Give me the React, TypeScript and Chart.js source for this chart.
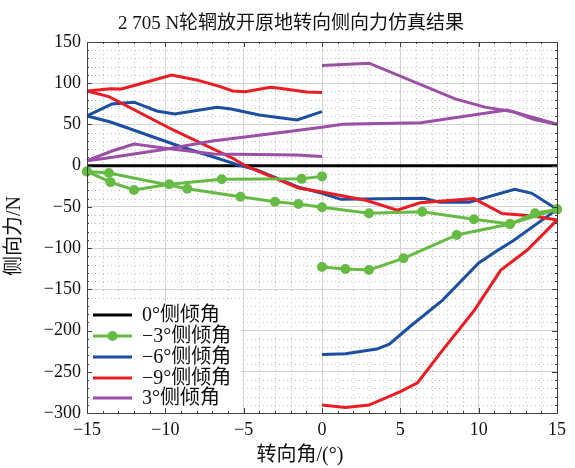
import React, { useEffect, useRef } from "react";
import { Chart, registerables } from "chart.js";

Chart.register(...registerables);

const SERIF = "'Liberation Serif', 'Noto Sans CJK SC', serif";

const titleText = "2 705 N轮辋放开原地转向侧向力仿真结果";
const xAxisTitle = "转向角/(°)";
const yAxisTitle = "侧向力/N";

const seriesNames = ["0°侧倾角", "−3°侧倾角", "−6°侧倾角", "−9°侧倾角", "3°侧倾角"];
const seriesColors = ["#000000", "#66bb44", "#1c4ea3", "#ec1c24", "#9b4fa6"];

// axis ranges: steering angle (°) and lateral force (N)
const xMin = -15, xMax = 15, xStep = 5, xMinorStep = 1;
const yMin = -300, yMax = 150, yStep = 50, yMinorStep = 10;

// 0° camber
const camber0 = [[-15, 0], [15, 0]];

// -3° camber (sampled points, drawn with markers)
const neg3Return = [[-15, -7], [-13.5, -20], [-12, -29.5], [-9.75, -22.6], [-6.4, -16.5], [-1.3, -16], [0, -13]];
const neg3Sweep = [[-15, -7], [-13.6, -9], [-8.6, -28], [-5.2, -37.6], [-3, -43.7], [-1.5, -46.5], [0, -50.5],
  [3, -57.8], [6.4, -55.8], [9.7, -65], [12, -70.8], [15, -53]];
const neg3Right = [[0, -123], [1.5, -125.4], [3, -126.6], [5.2, -112.4], [8.6, -84], [12, -70.8], [13.6, -57.8], [15, -53]];

// -6° camber
const neg6Return = [[-15, 60.3], [-13.4, 74.9], [-12, 77], [-10.55, 66.4], [-9.4, 62.7], [-6.7, 70.9], [-5.8, 68.8],
  [-4, 61.5], [-1.6, 55.5], [0, 65.5]];
const neg6Sweep = [[-15, 60.3], [-13.5, 53], [-9, 23], [-5.2, 0], [-4.2, -5], [-1.5, -26], [0, -33.5], [1.2, -40.8],
  [6.5, -39.6], [7.5, -44.4], [9.4, -44.4], [12.3, -28.7], [13.4, -33.5], [15, -53]];
const neg6Right = [[0, -229], [1.5, -228], [3.5, -222.4], [4.3, -216.4], [5.6, -195.4], [7.7, -163], [10, -118],
  [11.25, -102.3], [12.2, -91], [15, -53]];

// -9° camber
const neg9Return = [[-15, 90.6], [-13.5, 93.4], [-12.8, 93], [-11.7, 98.8], [-9.6, 110], [-8, 104], [-6.5, 95.9],
  [-5.7, 90.6], [-4.9, 89.8], [-3.3, 95.1], [-2.7, 93.9], [-1, 89.4], [0, 88.6]];
const neg9Sweep = [[-15, 90.6], [-13.6, 83.7], [-9.5, 43.3], [-5.7, 9], [-4.8, -1], [-1.5, -27], [0, -32],
  [2.8, -42], [4.8, -54], [6.25, -45], [9.7, -40], [11.5, -58], [13.5, -61], [15, -66]];
const neg9Right = [[0, -290.4], [1.5, -293.3], [3, -290.4], [5, -274], [6.1, -263.3], [7.7, -223.7], [9.7, -176],
  [11.4, -127], [13.1, -102.3], [15, -66]];

// 3° camber
const pos3Return = [[-15, 6], [-13.4, 17.8], [-12, 26.3], [-10, 21], [-6.9, 14.2], [-1.6, 13], [0, 11]];
const pos3Sweep = [[-15, 6], [-13.8, 9], [-10, 20], [-7, 30], [-3.5, 38], [0, 46.5], [1.3, 50.2], [6.3, 52.2],
  [11.8, 67.6], [15, 50.2]];
const pos3Right = [[0, 121.4], [3, 124.3], [8.5, 81], [10.4, 71], [12.2, 65.5], [13.5, 56.3], [15, 50.2]];

const toPoints = (pairs: number[][]) => pairs.map(([x, y]) => ({ x, y }));

const minus = (v: number | string) => String(v).replace("-", "\u2212");

function lineSet(pairs: number[][], idx: number, order: number, markers = false) {
  const c = seriesColors[idx];
  return {
    label: seriesNames[idx],
    data: toPoints(pairs),
    borderColor: c,
    backgroundColor: c,
    borderWidth: 3,
    pointRadius: markers ? 5 : 0,
    pointHoverRadius: markers ? 5 : 0,
    pointBackgroundColor: c,
    pointBorderColor: c,
    pointBorderWidth: 0,
    tension: 0,
    clip: false,
    order,
  };
}

const decorPlugin = {
  id: "decor",
  beforeDatasetsDraw(chart: any) {
    const { ctx, chartArea, scales } = chart;
    const { left, right, top, bottom } = chartArea;
    const sx = scales.x, sy = scales.y;
    ctx.save();
    ctx.strokeStyle = "#c2c2c2";
    ctx.lineWidth = 1;
    ctx.setLineDash([1, 3]);
    ctx.beginPath();
    for (let v = xMin + xMinorStep; v < xMax; v += xMinorStep) {
      if (v % xStep === 0) continue;
      const px = Math.round(sx.getPixelForValue(v)) + 0.5;
      ctx.moveTo(px, top);
      ctx.lineTo(px, bottom);
    }
    for (let v = yMin + yMinorStep; v < yMax; v += yMinorStep) {
      if (v % yStep === 0) continue;
      const py = Math.round(sy.getPixelForValue(v)) + 0.5;
      ctx.moveTo(left, py);
      ctx.lineTo(right, py);
    }
    ctx.stroke();
    ctx.restore();
  },
  afterDatasetsDraw(chart: any) {
    const { ctx, chartArea, scales } = chart;
    const { left, right, top, bottom } = chartArea;
    const sx = scales.x, sy = scales.y;
    ctx.save();

    // legend
    ctx.fillStyle = "#ffffff";
    ctx.fillRect(left + 1, 302, 153, bottom - 303);
    const rowY = [315, 336, 357, 378, 398];
    ctx.font = `20px ${SERIF}`;
    ctx.textBaseline = "middle";
    ctx.textAlign = "left";
    seriesNames.forEach((name, i) => {
      const y = rowY[i];
      ctx.strokeStyle = seriesColors[i];
      ctx.lineWidth = 3;
      ctx.beginPath();
      ctx.moveTo(93, y);
      ctx.lineTo(132, y);
      ctx.stroke();
      if (i === 1) {
        ctx.fillStyle = seriesColors[i];
        ctx.beginPath();
        ctx.arc(112.5, y, 5, 0, Math.PI * 2);
        ctx.fill();
      }
      ctx.fillStyle = "#111";
      ctx.fillText(name, 142, y + 1);
    });

    // frame with inward ticks
    ctx.strokeStyle = "#404040";
    ctx.lineWidth = 1;
    ctx.strokeRect(Math.round(left) + 0.5, Math.round(top) + 0.5, Math.round(right - left), Math.round(bottom - top));
    ctx.beginPath();
    for (let v = xMin; v <= xMax; v += xMinorStep) {
      const px = Math.round(sx.getPixelForValue(v)) + 0.5;
      const len = v % xStep === 0 ? 5 : 2;
      ctx.moveTo(px, bottom);
      ctx.lineTo(px, bottom - len);
      ctx.moveTo(px, top);
      ctx.lineTo(px, top + len);
    }
    for (let v = yMin; v <= yMax; v += yMinorStep) {
      const py = Math.round(sy.getPixelForValue(v)) + 0.5;
      const len = v % yStep === 0 ? 5 : 2;
      ctx.moveTo(left, py);
      ctx.lineTo(left + len, py);
      ctx.moveTo(right, py);
      ctx.lineTo(right - len, py);
    }
    ctx.stroke();
    ctx.restore();
  },
  afterDraw(chart: any) {
    const { ctx } = chart;
    ctx.save();
    ctx.fillStyle = "#111";
    ctx.textAlign = "center";
    ctx.textBaseline = "middle";
    ctx.font = `19px ${SERIF}`;
    ctx.fillText(titleText, 291, 24);
    ctx.font = `20px ${SERIF}`;
    ctx.fillText(xAxisTitle, 300, 456);
    ctx.translate(15, 236);
    ctx.rotate(-Math.PI / 2);
    ctx.fillText(yAxisTitle, 0, 0);
    ctx.restore();
  },
};

export default function App() {
  const canvasRef = useRef<HTMLCanvasElement | null>(null);

  useEffect(() => {
    const canvas = canvasRef.current;
    if (!canvas) return;
    const chart = new Chart(canvas, {
      type: "line",
      data: {
        datasets: [
          lineSet(camber0, 0, 10),
          lineSet(neg3Return, 1, 1, true),
          lineSet(neg3Sweep, 1, 1, true),
          lineSet(neg3Right, 1, 1, true),
          lineSet(neg6Return, 2, 4),
          lineSet(neg6Sweep, 2, 4),
          lineSet(neg6Right, 2, 4),
          lineSet(neg9Return, 3, 3),
          lineSet(neg9Sweep, 3, 3),
          lineSet(neg9Right, 3, 3),
          lineSet(pos3Return, 4, 2),
          lineSet(pos3Sweep, 4, 2),
          lineSet(pos3Right, 4, 2),
        ] as any,
      },
      options: {
        responsive: false,
        animation: false,
        layout: { padding: { left: 0, top: 42, right: 18, bottom: 0 } },
        plugins: {
          legend: { display: false },
          tooltip: { enabled: false },
          title: { display: false },
        },
        scales: {
          x: {
            type: "linear",
            min: xMin,
            max: xMax,
            afterFit: (s: any) => { s.height = 55; },
            border: { display: false },
            grid: { color: "#d2d2d2", lineWidth: 1, drawTicks: false },
            ticks: {
              stepSize: xStep,
              padding: 6,
              color: "#111",
              font: { family: SERIF, size: 18 },
              callback: (v: any) => minus(v),
              maxRotation: 0,
            },
          },
          y: {
            type: "linear",
            min: yMin,
            max: yMax,
            afterFit: (s: any) => { s.width = 87; },
            border: { display: false },
            grid: { color: "#d2d2d2", lineWidth: 1, drawTicks: false },
            ticks: {
              stepSize: yStep,
              padding: 6,
              color: "#111",
              font: { family: SERIF, size: 18 },
              callback: (v: any) => minus(v),
            },
          },
        },
      } as any,
      plugins: [decorPlugin],
    });
    return () => chart.destroy();
  }, []);

  return (
    <div style={{ position: "absolute", left: 0, top: 0, background: "#fff" }}>
      <canvas ref={canvasRef} width={575} height={468} style={{ display: "block" }} />
    </div>
  );
}
